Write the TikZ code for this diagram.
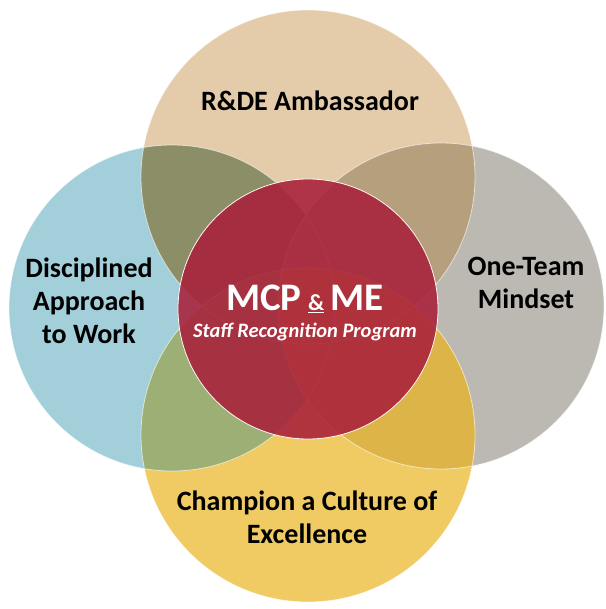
\documentclass[tikz,border=0pt]{standalone}
\usepackage{fontspec}
\setmainfont{Carlito}
\definecolor{sand}{HTML}{E4CCAA}
\definecolor{sky}{HTML}{A2CFD9}
\definecolor{stone}{HTML}{BCB9B2}
\definecolor{sun}{HTML}{F0CB63}
\definecolor{olivemix}{HTML}{8C8E67}
\definecolor{sandmix}{HTML}{B69F7C}
\definecolor{leafmix}{HTML}{9CAF74}
\definecolor{goldmix}{HTML}{DDB447}
\definecolor{mcpred}{HTML}{A8203A}
\tikzset{
  rim/.style={draw=white, draw opacity=0.6, line width=0.8pt},
  venntext/.style={align=center, inner sep=0pt, font=\bfseries\fontsize{28}{33}\selectfont},
}
\begin{document}
\begin{tikzpicture}[x=1pt,y=-1pt]
\useasboundingbox (0,0) rectangle (605,609);
\coordinate (top) at (308,177);
\coordinate (left) at (172,308);
\coordinate (right) at (441,306);
\coordinate (bottom) at (308,435);
\coordinate (hub) at (308,309);

\fill [sand] (top) circle (167pt);
\fill [sky] (left) circle (163pt);
\fill [stone] (right) circle (163pt);
\fill [sun] (bottom) circle (167pt);
\begin{scope}
  \clip (top) circle (167pt);
  \fill [olivemix] (left) circle (163pt);
  \fill [sandmix] (right) circle (163pt);
\end{scope}
\begin{scope}
  \clip (bottom) circle (167pt);
  \fill [leafmix] (left) circle (163pt);
  \fill [goldmix] (right) circle (163pt);
\end{scope}
\draw [rim] (top) circle (167pt) (left) circle (163pt)
            (right) circle (163pt) (bottom) circle (167pt);

\fill [mcpred, opacity=0.88] (hub) circle (130pt);
\draw [white!85!pink, line width=0.8pt] (hub) circle (130pt);

\node [venntext] (ambassador) at (310,101) {R\&DE Ambassador};
\node [venntext] (discipline) at (89,301) {Disciplined\\Approach\\to Work};
\node [venntext] (oneteam) at (526,283) {One-Team\\Mindset};
\node [venntext] (champion) at (307,517) {Champion a Culture of\\Excellence};
\node [white, inner sep=0pt, font=\bfseries\fontsize{39}{39}\selectfont] (mcp) at (305,299)
  {MCP\,{\fontsize{23}{23}\selectfont\underline{\&}}\,ME};
\node [white, inner sep=0pt, font=\bfseries\itshape\fontsize{20.5}{20.5}\selectfont] (staff) at (305,332)
  {Staff Recognition Program};
\end{tikzpicture}
\end{document}
